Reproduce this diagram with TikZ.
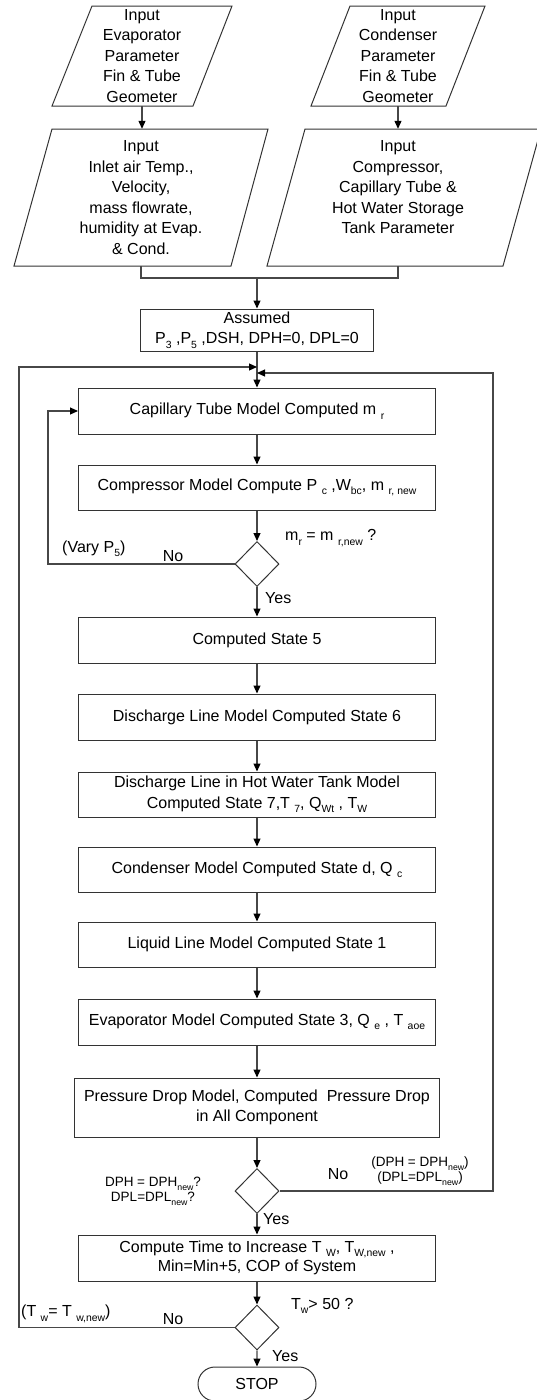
\documentclass[tikz,border=0pt]{standalone}
\usepackage{fontspec}
\setmainfont{Liberation Sans}
\usetikzlibrary{shapes.geometric,shapes.misc,arrows.meta}
\newcommand\sbs[1]{\raisebox{-0.28em}{\scalebox{0.65}{#1}}}
\begin{document}
\begin{tikzpicture}[x=1pt,y=-1pt,
  line/.style={draw=black!72, line width=1.1pt},
  arr/.style={line, -{Triangle[length=8pt,width=7pt,color=black]}},
  bigfont/.style={font=\fontsize{16}{20.5}\selectfont},
  smallfont/.style={font=\fontsize{13.5}{15}\selectfont},
  ptxt/.style={rectangle, inner sep=0pt, align=center, bigfont},
  shapeline/.style={draw=black!80, line width=1pt},
  box/.style={rectangle, shapeline, minimum width=357pt, minimum height=46pt, inner sep=2pt, align=center, bigfont},
  dec/.style={diamond, shapeline, minimum width=44pt, minimum height=45pt, inner sep=0pt},
  term/.style={rounded rectangle, shapeline, minimum width=118pt, minimum height=34pt, inner sep=0pt, bigfont},
  lbl/.style={inner sep=0pt, align=center, bigfont},
  slbl/.style={inner sep=0pt, align=center, smallfont}]
\path[use as bounding box] (0,0) rectangle (537,1400);
\clip (0,0) rectangle (537,1400);
% input parallelograms
\draw[shapeline] (92,6) -- (232,6) -- (193,106) -- (52,106) -- cycle;
\draw[shapeline] (350,6) -- (485,6) -- (446,106) -- (311,106) -- cycle;
\draw[shapeline] (52,129) -- (268,129) -- (231,266) -- (14,266) -- cycle;
\draw[shapeline] (305,129) -- (541,129) -- (503,266) -- (267,266) -- cycle;
\node[ptxt, minimum width=100pt, minimum height=100pt] (p1) at (142,56) {Input\\Evaporator\\Parameter\\Fin \& Tube\\Geometer};
\node[ptxt, minimum width=100pt, minimum height=100pt] (p2) at (398,56) {Input\\Condenser\\Parameter\\Fin \& Tube\\Geometer};
\node[ptxt, minimum width=150pt, minimum height=137pt] (p3) at (141,197.5) {Input\\Inlet air Temp.,\\Velocity,\\mass flowrate,\\humidity at Evap.\\\& Cond.};
\node[ptxt, minimum width=150pt, minimum height=137pt] (p4) at (398,197.5) {Input\\Compressor,\\Capillary Tube \&\\Hot Water Storage\\Tank Parameter\\ \mbox{}};
% boxes
\node[box, minimum width=233pt, minimum height=42pt] (as) at (257,330) {Assumed\\P\sbs{3} ,P\sbs{5} ,DSH, DPH=0, DPL=0};
\node[box] (cap) at (257,411) {Capillary Tube Model Computed m \sbs{r}};
\node[box, minimum height=45pt] (comp) at (257,487.5) {Compressor Model Compute P \sbs{c} ,W\sbs{bc}, m \sbs{r, new}};
\node[dec] (d1) at (257,564) {};
\node[box] (s5) at (257,640) {Computed State 5};
\node[box] (dl) at (257,717) {Discharge Line Model Computed State 6};
\node[box, minimum height=45pt] (hw) at (257,794.5) {Discharge Line in Hot Water Tank Model\\Computed State 7,T \sbs{7}, Q\sbs{Wt} , T\sbs{W}};
\node[box, minimum height=45pt] (cond) at (257,869.5) {Condenser Model Computed State d, Q \sbs{c}};
\node[box, minimum height=45pt] (liq) at (257,944.5) {Liquid Line Model Computed State 1};
\node[box] (ev) at (257,1022) {Evaporator Model Computed State 3, Q \sbs{e} , T \sbs{aoe}};
\node[box, minimum width=365pt, minimum height=59pt] (pd) at (257,1107.5) {Pressure Drop Model, Computed \ Pressure Drop\\in All Component};
\node[dec] (d2) at (257,1191) {};
\node[box, font=\fontsize{16}{19.5}\selectfont] (cmp) at (257,1258) {Compute Time to Increase T \sbs{W}, T\sbs{W,new} ,\\Min=Min+5, COP of System};
\node[dec] (d3) at (257,1327.5) {};
\node[term] (stop) at (257,1384) {STOP};
% connectors
\draw[arr] (p1.south) -- (p1.south |- p3.north);
\draw[arr] (p2.south) -- (p2.south |- p4.north);
\coordinate (j1) at (257,278);
\draw[line] (p3.south) |- (j1) -| (p4.south);
\draw[arr] (j1) -- (as.north);
\draw[arr] (as.south) -- (cap.north);
\coordinate (mL) at (257,367);
\coordinate (mR) at (257,373);
\coordinate (cL) at (19,0);
\coordinate (cR) at (493,0);
\coordinate (cV) at (48,0);
\draw[arr] (cap) -- (comp);
\draw[arr] (comp) -- (d1);
\draw[arr] (d1) -- (s5);
\draw[arr] (s5) -- (dl);
\draw[arr] (dl) -- (hw);
\draw[arr] (hw) -- (cond);
\draw[arr] (cond) -- (liq);
\draw[arr] (liq) -- (ev);
\draw[arr] (ev) -- (pd);
\draw[arr] (pd) -- (d2);
\draw[arr] (d2) -- (cmp);
\draw[arr] (cmp) -- (d3);
\draw[arr] (d3) -- (stop);
\draw[arr] (d1.west) -| (cV |- cap.west) -- (cap.west);
\draw[arr] (d2.east) -| (cR |- mR) -- (mR);
\draw[arr] (d3.west) -| (cL |- mL) -- (mL);
% labels
\node[lbl, anchor=west] (l1) at (285,538) {m\sbs{r} = m \sbs{r,new} ?};
\node[lbl, anchor=west] (l2) at (62,549) {(Vary P\sbs{5})};
\node[lbl] (l3) at (173,556) {No};
\node[lbl, anchor=west] (l4) at (265,598) {Yes};
\node[lbl] (l5) at (338,1174) {No};
\node[slbl] (l6) at (420,1171) {(DPH = DPH\sbs{new})\\(DPL=DPL\sbs{new})};
\node[slbl] (l7) at (153,1191) {DPH = DPH\sbs{new}?\\DPL=DPL\sbs{new}?};
\node[lbl, anchor=west] (l8) at (263,1219) {Yes};
\node[lbl, anchor=west] (l9) at (291,1306) {T\sbs{w}> 50 ?};
\node[lbl, anchor=west] (l10) at (21,1314) {(T \sbs{w}= T \sbs{w,new})};
\node[lbl] (l11) at (173,1319) {No};
\node[lbl, anchor=west] (l12) at (272,1356) {Yes};
\end{tikzpicture}
\end{document}
